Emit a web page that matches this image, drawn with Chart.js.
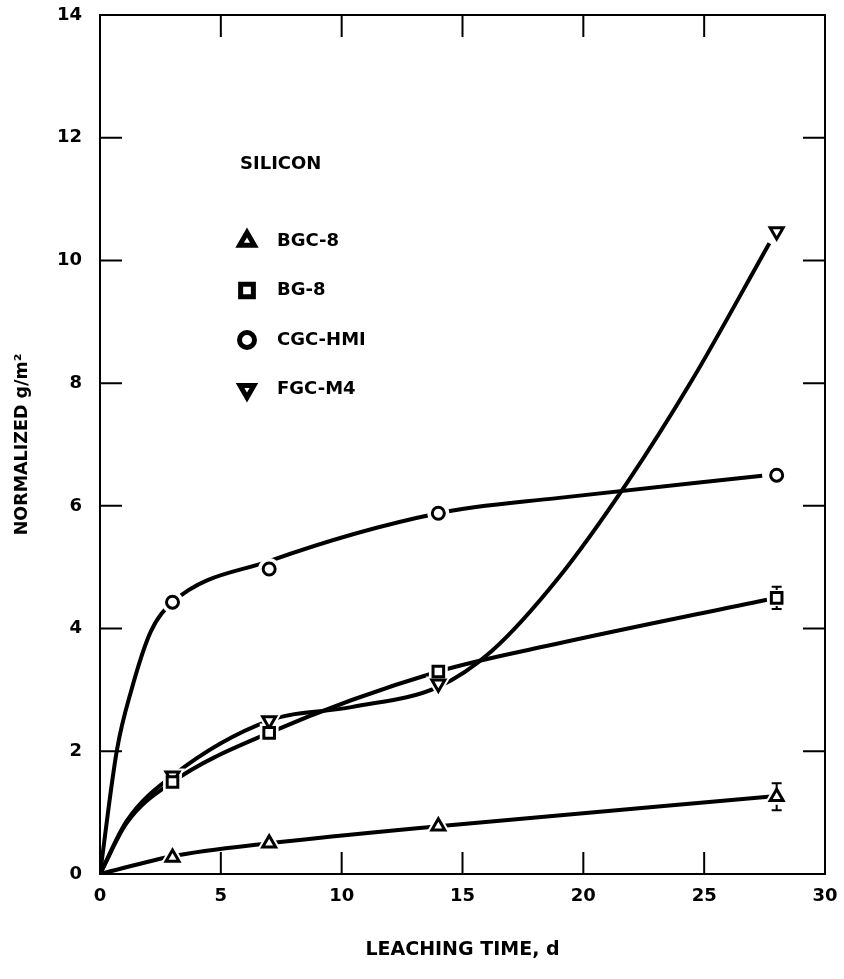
<!DOCTYPE html>
<html lang="en">
<head>
<meta charset="UTF-8">
<title>Silicon leaching</title>
<style>
  body { margin: 0; background: #fff; }
  .container { position: relative; width: 844px; height: 979px; }
</style>
<script src="https://cdn.jsdelivr.net/npm/chart.js"></script>
</head>
<body>
<div class="container"><canvas id="leachChart"></canvas></div>
<script>
// measured points
const days = [3, 7, 14, 28];
const bgc8 = [0.27, 0.5, 0.78, 1.26];
const bg8 = [1.5, 2.3, 3.3, 4.5];
const cgcHmi = [4.43, 4.97, 5.88, 6.5];
const fgcM4 = [1.6, 2.5, 3.1, 10.47];
const bgc8Err = [0, 0, 0, 0.22];
const bg8Err = [0, 0, 0, 0.18];

// hand-drawn fit curves
const bgc8CurveX = [0, 3, 7, 14, 28];
const bgc8CurveY = [0, 0.29, 0.5, 0.78, 1.27];
const bg8CurveX = [0, 1.1, 3, 7, 14, 19, 27.6];
const bg8CurveY = [0, 0.83, 1.5, 2.3, 3.3, 3.76, 4.47];
const cgcCurveX = [0, 0.7, 1.3, 2.1, 3, 7, 14, 19, 27.4];
const cgcCurveY = [0, 2.02, 3.0, 3.95, 4.43, 5.1, 5.88, 6.13, 6.49];
const fgcCurveX = [0, 1.1, 3, 7, 10.4, 14, 16.2, 19, 21.8, 24.5, 27.7];
const fgcCurveY = [0, 0.86, 1.6, 2.5, 2.72, 3.05, 3.63, 4.84, 6.37, 8.05, 10.28];

const xTicks = [0, 5, 10, 15, 20, 25, 30];
const yTicks = [0, 2, 4, 6, 8, 10, 12, 14];

const FONT = '"DejaVu Sans", "Liberation Sans", sans-serif';

function pts(xs, ys) {
    return xs.map((x, i) => ({ x: x, y: ys[i] }));
}

function curve(xs, ys) {
    return {
        data: pts(xs, ys),
        showLine: true,
        borderColor: '#000',
        borderWidth: 4,
        pointRadius: 0,
        cubicInterpolationMode: 'monotone',
        order: 3
    };
}

function markers(ys, style, radius, rotation, halo) {
    return {
        data: pts(days, ys),
        showLine: false,
        pointStyle: style,
        pointRadius: halo ? radius + 3 : radius,
        pointRotation: rotation,
        pointBackgroundColor: '#fff',
        pointBorderColor: halo ? '#fff' : '#000',
        pointBorderWidth: halo ? 4 : 3,
        order: halo ? 2 : 1
    };
}

const series = [
    { name: 'BGC-8', ys: bgc8, style: 'triangle', r: 7.5, key: 8.5, rot: 0 },
    { name: 'BG-8', ys: bg8, style: 'rect', r: 7.5, key: 9, rot: 0 },
    { name: 'CGC-HMI', ys: cgcHmi, style: 'circle', r: 6, key: 7.5, rot: 0 },
    { name: 'FGC-M4', ys: fgcM4, style: 'triangle', r: 7.5, key: 8, rot: 180 }
];

const datasets = [
    curve(bgc8CurveX, bgc8CurveY),
    curve(bg8CurveX, bg8CurveY),
    curve(cgcCurveX, cgcCurveY),
    curve(fgcCurveX, fgcCurveY)
];
series.forEach(s => datasets.push(markers(s.ys, s.style, s.r, s.rot, true)));
series.forEach(s => datasets.push(markers(s.ys, s.style, s.r, s.rot, false)));

// frame with inward ticks on all four sides
const frameTicks = {
    id: 'frameTicks',
    afterDraw(chart) {
        const ctx = chart.ctx, a = chart.chartArea;
        const xs = chart.scales.x, ys = chart.scales.y;
        const len = 22;
        ctx.save();
        ctx.strokeStyle = '#000';
        ctx.lineWidth = 2;
        ctx.strokeRect(a.left, a.top, a.right - a.left, a.bottom - a.top);
        ctx.beginPath();
        xTicks.slice(1, -1).forEach(v => {
            const px = xs.getPixelForValue(v);
            ctx.moveTo(px, a.bottom); ctx.lineTo(px, a.bottom - len);
            ctx.moveTo(px, a.top); ctx.lineTo(px, a.top + len);
        });
        yTicks.slice(1, -1).forEach(v => {
            const py = ys.getPixelForValue(v);
            ctx.moveTo(a.left, py); ctx.lineTo(a.left + len, py);
            ctx.moveTo(a.right, py); ctx.lineTo(a.right - len, py);
        });
        ctx.stroke();
        ctx.restore();
    }
};

const errorBars = {
    id: 'errorBars',
    afterDatasetsDraw(chart) {
        const ctx = chart.ctx, xs = chart.scales.x, ys = chart.scales.y;
        ctx.save();
        ctx.strokeStyle = '#000';
        ctx.lineWidth = 2;
        [[bgc8, bgc8Err], [bg8, bg8Err]].forEach(([vals, errs]) => {
            days.forEach((d, i) => {
                if (!errs[i]) return;
                const px = xs.getPixelForValue(d);
                const hi = ys.getPixelForValue(vals[i] + errs[i]);
                const lo = ys.getPixelForValue(vals[i] - errs[i]);
                const top = ys.getPixelForValue(vals[i]) - 8;
                const bot = ys.getPixelForValue(vals[i]) + 8;
                ctx.beginPath();
                ctx.moveTo(px, hi); ctx.lineTo(px, Math.max(hi, top));
                ctx.moveTo(px, lo); ctx.lineTo(px, Math.min(lo, bot));
                ctx.moveTo(px - 5, hi); ctx.lineTo(px + 5, hi);
                ctx.moveTo(px - 5, lo); ctx.lineTo(px + 5, lo);
                ctx.stroke();
            });
        });
        ctx.restore();
    }
};

const keyBox = {
    id: 'keyBox',
    afterDraw(chart) {
        const ctx = chart.ctx, a = chart.chartArea;
        const mx = a.left + 147, tx = a.left + 177;
        ctx.save();
        ctx.fillStyle = '#000';
        ctx.font = 'bold 18px ' + FONT;
        ctx.textBaseline = 'middle';
        ctx.fillText('SILICON', a.left + 140, a.top + 149);
        series.forEach((s, i) => {
            const y = a.top + 226 + i * 49.5;
            ctx.strokeStyle = '#000';
            ctx.fillStyle = '#fff';
            ctx.lineWidth = 5;
            Chart.helpers.drawPoint(ctx, {
                pointStyle: s.style, radius: s.key, rotation: s.rot, borderWidth: 5
            }, mx, y);
            ctx.fillStyle = '#000';
            ctx.fillText(s.name, tx, y);
        });
        ctx.restore();
    }
};

new Chart(document.getElementById('leachChart'), {
    type: 'scatter',
    data: { datasets: datasets },
    plugins: [errorBars, frameTicks, keyBox],
    options: {
        responsive: true,
        maintainAspectRatio: false,
        animation: false,
        events: [],
        layout: { padding: { left: 0, top: 15, right: 19, bottom: 0 } },
        plugins: { legend: { display: false }, tooltip: { enabled: false } },
        scales: {
            x: {
                type: 'linear', min: 0, max: 30,
                afterFit: s => { s.height = 105; s.paddingLeft = 0; s.paddingRight = 0; },
                afterBuildTicks: s => { s.ticks = xTicks.map(v => ({ value: v })); },
                grid: { display: false, drawTicks: false },
                border: { display: false },
                ticks: { color: '#000', padding: 12, font: { family: FONT, size: 18, weight: 'bold' } },
                title: {
                    display: true, text: 'LEACHING TIME, d', color: '#000',
                    padding: { top: 0, bottom: 18 },
                    font: { family: FONT, size: 19, weight: 'bold' }
                }
            },
            y: {
                type: 'linear', min: 0, max: 14,
                afterFit: s => { s.width = 100; s.paddingTop = 0; s.paddingBottom = 0; },
                afterBuildTicks: s => { s.ticks = yTicks.map(v => ({ value: v })); },
                grid: { display: false, drawTicks: false },
                border: { display: false },
                ticks: { color: '#000', padding: 18, font: { family: FONT, size: 18, weight: 'bold' } },
                title: {
                    display: true, text: 'NORMALIZED g/m²', color: '#000',
                    padding: { top: 12, bottom: 0 },
                    font: { family: FONT, size: 17.5, weight: 'bold' }
                }
            }
        }
    }
});
</script>
</body>
</html>
